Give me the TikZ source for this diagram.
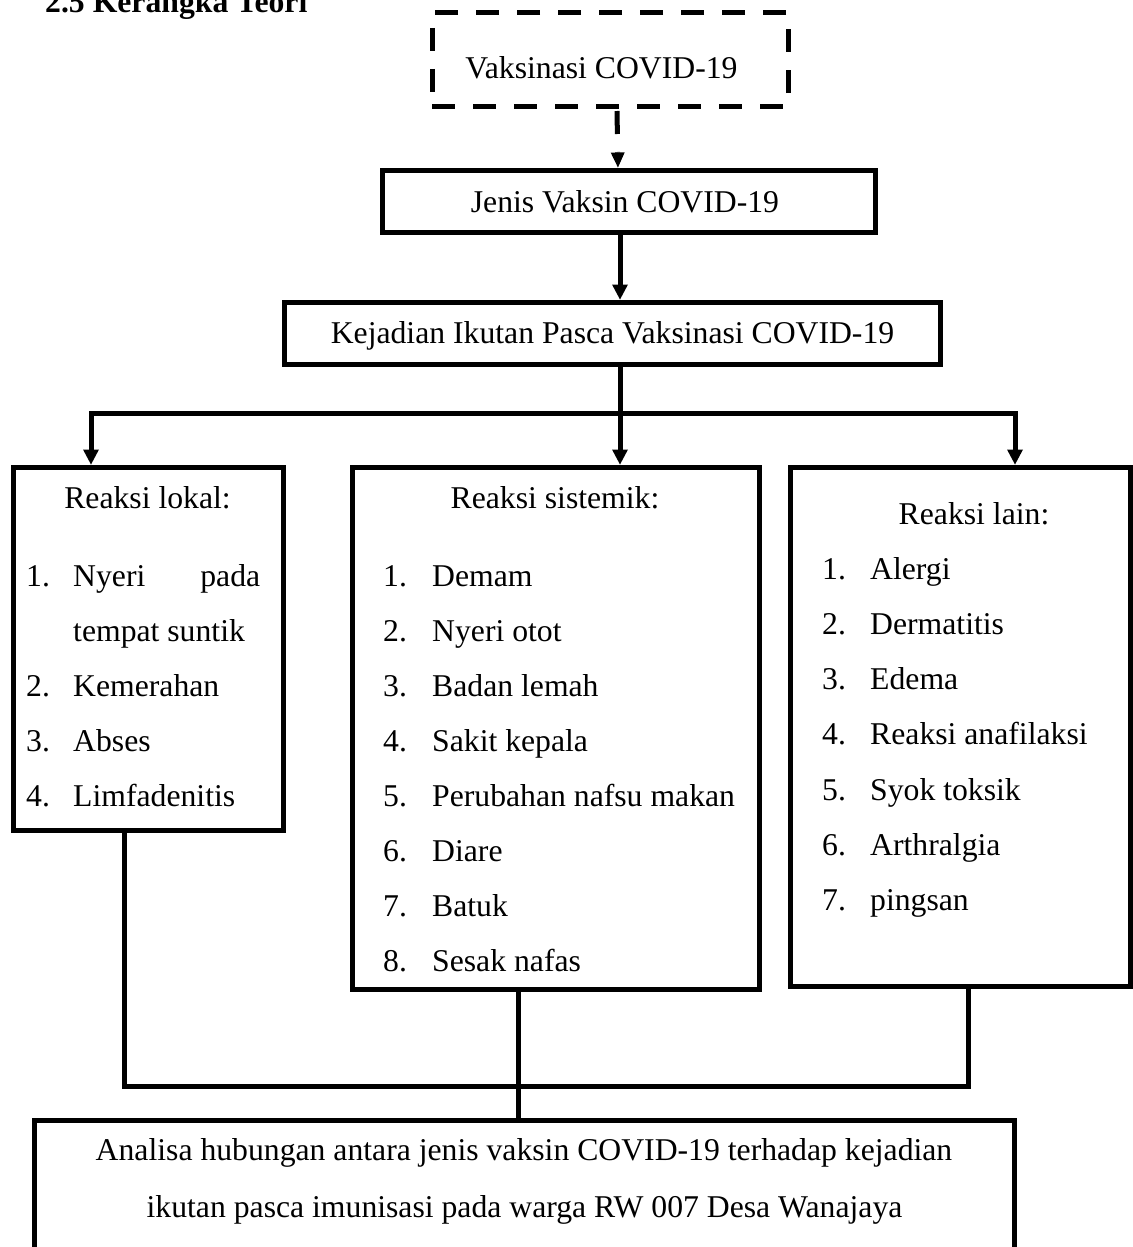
\documentclass[tikz,border=0pt]{standalone}
\usepackage{fontspec}
\setmainfont{Liberation Serif}
\usetikzlibrary{arrows.meta}
\begin{document}
\begin{tikzpicture}[x=1pt,y=-1pt,
  box/.style={draw, line width=5pt, inner sep=0pt, outer sep=0pt},
  dashbox/.style={box, dash pattern=on 23pt off 18pt},
  txt/.style={inner sep=0pt, font=\fontsize{31.7pt}{38pt}\selectfont},
  conn/.style={line width=5pt},
  arr/.style={conn, -{Triangle[length=15pt,width=16pt,line width=0pt]}, shorten >=2.5pt},
  dasharr/.style={conn, dash pattern=on 23pt off 18pt, -{Triangle[length=15pt,width=14pt,line width=0pt]}, shorten >=2.5pt}
]
\useasboundingbox (0,0) rectangle (1132,1247);

% title
\node[txt, font=\fontsize{31.7pt}{38pt}\selectfont\bfseries, anchor=base west] (title) at (45,12.7) {2.5 Kerangka Teori};

% boxes
\node[dashbox, minimum width=356pt, minimum height=93pt] (vax) at (610,59.5) {};
\node[txt, anchor=base] (vaxt) at (601.5,78) {Vaksinasi COVID-19};

\node[box, minimum width=493pt, minimum height=62pt] (jenis) at (628.5,201) {};
\node[txt, anchor=base] (jenist) at (625,212) {Jenis Vaksin COVID-19};

\node[box, minimum width=656pt, minimum height=62pt] (kej) at (612,333) {};
\node[txt, anchor=base] (kejt) at (612.5,343) {Kejadian Ikutan Pasca Vaksinasi COVID-19};

\node[box, minimum width=270pt, minimum height=363pt] (lokal) at (148,648.5) {};
\node[box, minimum width=407pt, minimum height=522pt] (sis) at (555.5,728) {};
\node[box, minimum width=340pt, minimum height=519pt] (lain) at (960,726.5) {};
\node[box, minimum width=980pt, minimum height=180pt] (hasil) at (524,1210) {};

% headings
\node[txt, anchor=base] (lokalh) at (147.5,508) {Reaksi lokal:};
\node[txt, anchor=base] (sish) at (555,508) {Reaksi sistemik:};
\node[txt, anchor=base] (lainh) at (974,524) {Reaksi lain:};

% left list
\node[txt, anchor=base west] (l1n) at (26,586) {1.};
\node[txt, anchor=base west] (l1) at (73,586) {\makebox[187pt][s]{Nyeri pada}};
\node[txt, anchor=base west] (l1b) at (73,641) {tempat suntik};
\node[txt, anchor=base west] (l2n) at (26,696) {2.};
\node[txt, anchor=base west] (l2) at (73,696) {Kemerahan};
\node[txt, anchor=base west] (l3n) at (26,751) {3.};
\node[txt, anchor=base west] (l3) at (73,751) {Abses};
\node[txt, anchor=base west] (l4n) at (26,806) {4.};
\node[txt, anchor=base west] (l4) at (73,806) {Limfadenitis};

% center list
\foreach \t [count=\i] in {Demam, Nyeri otot, Badan lemah, Sakit kepala, Perubahan nafsu makan, Diare, Batuk, Sesak nafas} {
  \node[txt, anchor=base west] (s\i n) at (383,{586+55*(\i-1)}) {\i.};
  \node[txt, anchor=base west] (s\i) at (432,{586+55*(\i-1)}) {\t};
}

% right list
\foreach \t [count=\i] in {Alergi, Dermatitis, Edema, Reaksi anafilaksi, Syok toksik, Arthralgia, pingsan} {
  \node[txt, anchor=base west] (r\i n) at (822,{579+55.3*(\i-1)}) {\i.};
  \node[txt, anchor=base west] (r\i) at (870,{579+55.3*(\i-1)}) {\t};
}

% bottom text
\node[txt, anchor=base] (h1) at (524,1160) {Analisa hubungan antara jenis vaksin COVID-19 terhadap kejadian};
\node[txt, anchor=base] (h2) at (524.5,1217) {ikutan pasca imunisasi pada warga RW 007 Desa Wanajaya};

% connectors
\draw[dasharr] ([xshift=7pt,yshift=-5pt]vax.south) -- ([xshift=-10.5pt]jenis.north);
\draw[arr] ([xshift=-8.5pt]jenis.south) -- ([xshift=8pt]kej.north);

\coordinate (split) at (620,413);
\coordinate (hl) at (91,413);
\coordinate (hr) at (1015,413);
\draw[arr] ([xshift=8pt]kej.south) -- (split |- sis.north);
\draw[arr] (split) -- (hl) -- (hl |- lokal.north);
\draw[arr] (split) -- (hr) -- (hr |- lain.north);

\coordinate (bl) at (124,1086);
\coordinate (br) at (968,1086);
\coordinate (bc) at (518,1086);
\draw[conn] (bl |- lokal.south) -- (bl) -- (br) -- (br |- lain.south);
\draw[conn] (bc |- sis.south) -- (bc |- hasil.north);
\end{tikzpicture}
\end{document}
